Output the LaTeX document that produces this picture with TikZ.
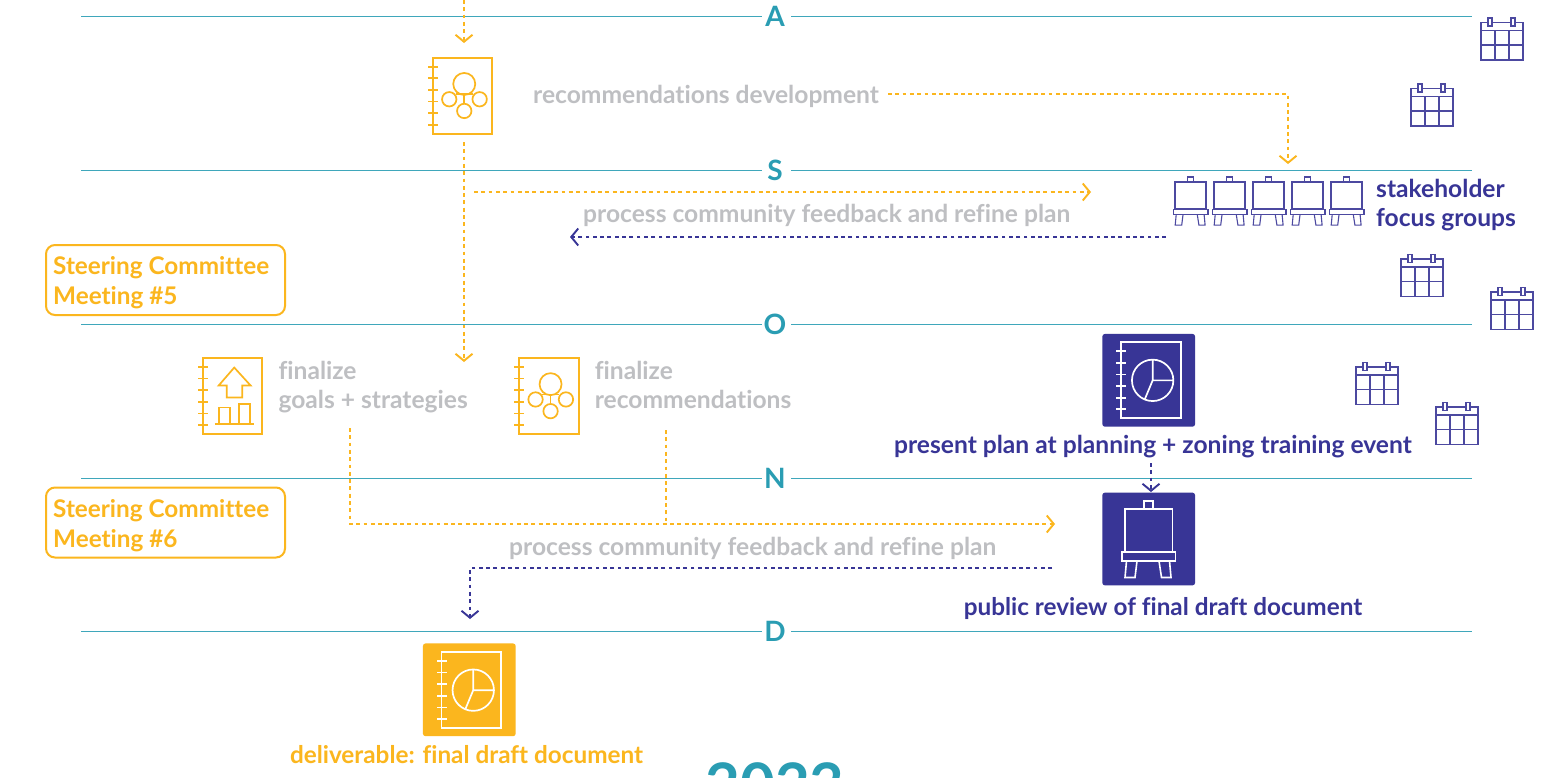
\documentclass[tikz,border=0pt]{standalone}
\usepackage{fontspec}
\setmainfont{Lato}[Ligatures=NoCommon]
\usetikzlibrary{arrows.meta, positioning}
\definecolor{amber}{HTML}{FBB61E}
\definecolor{indigo}{HTML}{383596}
\definecolor{teal}{HTML}{2A9DB3}
\definecolor{ash}{HTML}{BEBFC2}
\tikzstyle{monthrule} = [draw=teal!90, line width=1pt]
\tikzstyle{monthname} = [text=teal, inner sep=0pt, minimum width=29pt, minimum height=20pt, font=\bfseries\fontsize{28}{30}\selectfont]
\tikzstyle{say} = [inner sep=0pt, anchor=west, align=left, font=\bfseries\fontsize{24.6}{29.7}\selectfont]
\tikzstyle{tightsay} = [font=\bfseries\fontsize{24.3}{29.7}\selectfont]
\tikzstyle{greysay} = [say, text=ash]
\tikzstyle{bluesay} = [say, text=indigo]
\tikzstyle{ambersay} = [say, text=amber]
\tikzstyle{flow} = [line width=1.9pt, dash pattern=on 3.8pt off 3.5pt, -{Straight Barb[length=7pt,width=17pt,line width=1.9pt]}]
\tikzstyle{amberflow} = [flow, draw=amber]
\tikzstyle{blueflow} = [flow, draw=indigo]
\tikzstyle{page} = [rectangle, draw, line width=1.8pt, inner sep=0pt, outer sep=0pt, minimum width=59.7pt, minimum height=75.7pt]
\tikzstyle{plate} = [rectangle, rounded corners=2.5pt, inner sep=0pt, minimum width=92.7pt, minimum height=92.7pt]
\tikzstyle{meeting} = [rectangle, draw=amber, line width=2pt, rounded corners=9pt, inner sep=0pt, outer sep=0pt, minimum width=239pt, minimum height=70pt]
\tikzset{
	rings/.pic={
		\foreach \r in {0,...,5}
			\draw[line width=1.7pt] (-4.5,8.7+11.65*\r) -- (5,8.7+11.65*\r);
	},
	orgchart/.pic={
		\draw[line width=1.7pt] (31.6,26) circle (11) (16.6,41.3) circle (7.2) (47,41.3) circle (7.2) (31.6,53) circle (7.2);
		\draw[line width=1.7pt] (31.6,37) -- (31.6,46) (23,36.3) -- (40,36.3);
	},
	piechart/.pic={
		\draw[line width=1.7pt] (31.7,38) circle (20.7) (31.7,17.3) -- (31.7,38) -- (52.4,38) (31.7,38) -- (24,56.5);
	},
	growth/.pic={
		\draw[line width=1.7pt, line join=miter] (31.6,9.4) -- (48,27.4) -- (39.6,27.4) -- (39.6,39.4) -- (24,39.4) -- (24,27.4) -- (16,27.4) -- cycle;
		\draw[line width=1.7pt] (16.3,65.7) -- (16.3,49.4) -- (27.6,49.4) -- (27.6,65.7) (36.3,65.7) -- (36.3,46) -- (47.3,46) -- (47.3,65.7) (12.3,65.7) -- (51,65.7);
	},
	easel/.pic={
		\draw (0,0) rectangle (47.6,42.7);
		\draw (19.4,0) -- (19.4,-8) -- (28.4,-8) -- (28.4,0);
		\draw (-2.7,43) rectangle (50.8,52);
		\draw (1.8,52) -- (0.3,68.5) -- (10.3,68.5) -- (12.3,52);
		\draw (34.3,52) -- (36.8,68.5) -- (46.3,68.5) -- (44.8,52);
	},
	calendar/.pic={
		\draw (0,4.5) rectangle (42,42);
		\draw (0,12.5) -- (42,12.5) (0,27) -- (42,27) (14,12.5) -- (14,42) (28,12.5) -- (28,42);
		\draw[fill=white] (7,0) rectangle (11,8) (30,0) rectangle (34,8);
	}
}
\begin{document}
\begin{tikzpicture}[x=1pt, y=-1pt]
	\clip (0,0) rectangle (1552,777);
	\fill[white] (0,0) rectangle (1552,777);
	\foreach \m/\yy in {A/16,S/170,O/324,N/478,D/631} {
		\node [monthname] (month\m) at (776.5,\yy) {\raisebox{-2.3pt}{\m}\kern 3pt};
		\coordinate (start\m) at (81,\yy);
		\coordinate (end\m) at (1472,\yy);
		\draw [monthrule] (start\m) -- (month\m);
		\draw [monthrule] (month\m) -- (end\m);
	}
	\foreach \cx/\cy in {1481/18,1411/84,1401/254.5,1491/287.5,1356/362.5,1436/402.5}
		\pic [color=indigo!90, line width=1.1pt] at (\cx,\cy) {calendar};
	\node [page, draw=amber] (recbook) at (462.5,95.8) {};
	\pic [color=amber] at (recbook.north west) {rings};
	\pic [color=amber] at (recbook.north west) {orgchart};
	\node [greysay] (recdev) at (533,96) {recommendations development};
	\foreach \i in {0,...,4}
		\pic [color=indigo!90, line width=1.1pt, xscale=0.65, yscale=0.63] at (1175+39*\i,182) {easel};
	\node [bluesay] (focus) at (1376,205) {stakeholder\\focus groups};
	\node [greysay] (refineA) at (583,215) {process community feedback and refine plan};
	\node [meeting] (steerA) at (165.5,280) {};
	\node [ambersay, tightsay] (steerAtext) at (53,283) {Steering Committee\\Meeting \#5};
	\node [page, draw=amber] (goalbook) at (232.5,396) {};
	\pic [color=amber] at (goalbook.north west) {rings};
	\pic [color=amber] at (goalbook.north west) {growth};
	\node [greysay, right=16pt of goalbook, yshift=9pt] (goaltext) {finalize\\goals + strategies};
	\node [page, draw=amber] (finalbook) at (548.8,396) {};
	\pic [color=amber] at (finalbook.north west) {rings};
	\pic [color=amber] at (finalbook.north west) {orgchart};
	\node [greysay, right=16pt of finalbook, yshift=11pt] (finaltext) {finalize\\recommendations};
	\node [plate, fill=indigo] (presentbox) at (1148.7,380.3) {};
	\node [page, draw=white] (presentbook) at (1150.8,380.2) {};
	\pic [color=white] at (presentbook.north west) {rings};
	\pic [color=white] at (presentbook.north west) {piechart};
	\node [bluesay, anchor=center] (presenttext) at (1153,447) {present plan at planning + zoning training event};
	\node [plate, fill=indigo] (easelbox) at (1148.7,539) {};
	\pic [color=white, line width=1.6pt] at (1124.7,509) {easel};
	\node [bluesay, tightsay, anchor=center] (reviewtext) at (1163,608) {public review of final draft document};
	\node [meeting] (steerB) at (165.5,522.5) {};
	\node [ambersay, tightsay] (steerBtext) at (53,525.5) {Steering Committee\\Meeting \#6};
	\node [greysay] (refineB) at (509,548) {process community feedback and refine plan};
	\node [plate, fill=amber] (draftbox) at (469.3,689.8) {};
	\node [page, draw=white] (draftbook) at (471.4,690) {};
	\pic [color=white] at (draftbook.north west) {rings};
	\pic [color=white] at (draftbook.north west) {piechart};
	\node [ambersay, tightsay, anchor=center] (drafttext) at (466.5,755) {deliverable: final draft document};
	\node [inner sep=0pt, text=teal, font=\bfseries\fontsize{60}{60}\selectfont] (yeartext) at (775,785) {2023};
	\coordinate (inflow) at (464,0);
	\coordinate (intip) at (464,43);
	\coordinate (outstart) at (464,142);
	\coordinate (outtip) at (464,362);
	\coordinate (feedstart) at (474,192);
	\coordinate (feedtip) at (1091,192);
	\coordinate (backstart) at (1166,237);
	\coordinate (backtip) at (570,237);
	\coordinate (devstart) at (888,94);
	\coordinate (devtip) at (1288,164);
	\coordinate (goalstart) at (350,428);
	\coordinate (goaltip) at (1055,524);
	\coordinate (finalstart) at (666,430);
	\coordinate (finalend) at (666,524);
	\coordinate (reviewstart) at (1052,568);
	\coordinate (reviewtip) at (470,619);
	\coordinate (trainstart) at (1151,463);
	\coordinate (traintip) at (1151,492);
	\draw [amberflow] (inflow) -- (intip);
	\draw [amberflow] (outstart) -- (outtip);
	\draw [amberflow] (feedstart) -- (feedtip);
	\draw [blueflow] (backstart) -- (backtip);
	\draw [amberflow] (devstart) -| (devtip);
	\draw [amberflow] (goalstart) |- (goaltip);
	\draw [draw=amber, line width=1.9pt, dash pattern=on 3.8pt off 3.5pt] (finalstart) -- (finalend);
	\draw [blueflow] (reviewstart) -| (reviewtip);
	\draw [blueflow] (trainstart) -- (traintip);
\end{tikzpicture}
\end{document}
